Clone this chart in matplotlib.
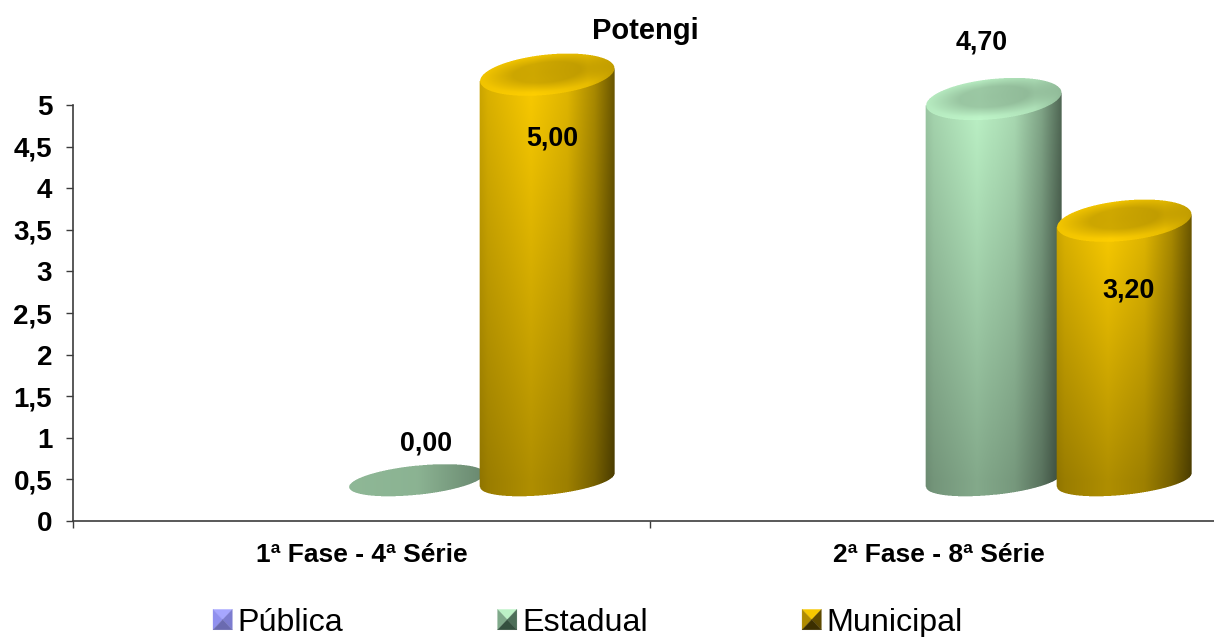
import numpy as np
import matplotlib
matplotlib.use("Agg")
import matplotlib.pyplot as plt
from matplotlib.patches import Polygon, Patch
from matplotlib.legend_handler import HandlerBase
from matplotlib.ticker import FixedLocator, FixedFormatter

categories = ["1ª Fase - 4ª Série", "2ª Fase - 8ª Série"]
series_names = ["Pública", "Estadual", "Municipal"]
publica = [None, None]
estadual = [0.0, 4.70]
municipal = [5.0, 3.20]
title = "Potengi"
yticks = [0, 0.5, 1, 1.5, 2, 2.5, 3, 3.5, 4, 4.5, 5]
ylabels = ["0", "0,5", "1", "1,5", "2", "2,5", "3", "3,5", "4", "4,5", "5"]

W, H = 1214, 637
FONT = "Liberation Sans"
plt.rcParams["font.family"] = [FONT, "DejaVu Sans"]
fig = plt.figure(figsize=(W / 100, H / 100), dpi=100, facecolor="white")
ax = fig.add_axes([73 / W, (H - 521) / H, (W - 73) / W, 416 / H])
ax.set_xlim(-0.5, -0.5 + (W - 73) / 577)
ax.set_ylim(0, 5)
ax.patch.set_visible(False)

# pseudo-3D projection of the original chart
BASE = 0.49
SCALE = 0.975
WIDTH = 0.234
OFFS = {"Estadual": 0.095, "Municipal": 0.322}
PEAK = {"Estadual": np.array([188, 242, 198.]), "Municipal": np.array([250, 203, 0.])}
TH = np.deg2rad(6)
B_BOT, B_TOP = 14.5, 20.0


def ell(X, Y, cx, cy, a, b):
    dx, dy = X - cx, Y - cy
    u = dx * np.cos(TH) + dy * np.sin(TH)
    v = -dx * np.sin(TH) + dy * np.cos(TH)
    return u / a, v / b


def side_shade(t):
    return np.interp(t, [0, .06, .38, .65, .85, 1], [.82, .88, 1.0, .90, .68, .42])


def render(rect, peak, value):
    x0 = rect.get_x()
    (l, yb), (r, yt) = ax.transData.transform(
        [(x0, rect.get_y()), (x0 + rect.get_width(), rect.get_y() + rect.get_height())])
    cx = (l + r) / 2
    a = (r - l) / 2
    px0, px1 = int(l) - 2, int(r) + 3
    py0, py1 = int(yb - 24), int(yt + 30)
    ss = 3
    xs = (np.arange((px1 - px0) * ss) + .5) / ss + px0
    ys = (np.arange((py1 - py0) * ss) + .5) / ss + py0
    X, Y = np.meshgrid(xs, ys)
    ub, vb = ell(X, Y, cx, yb, a, B_BOT)
    flat = value == 0
    bot = ub**2 + vb**2 <= 1
    if flat:
        mask = bot
        top = np.zeros_like(bot)
    else:
        ut, vt = ell(X, Y, cx, yt, a, B_TOP)
        top = ut**2 + vt**2 <= 1
        slope = 0.095
        band = (X >= l) & (X <= r) & (Y >= yb + (X - cx) * slope) & (Y <= yt + (X - cx) * slope)
        mask = bot | top | band
    t = np.clip((X - l) / (r - l), 0, 1)
    if flat:
        fac = np.interp(t, [0, .5, 1], [.76, .74, .56])
    else:
        vert = np.interp(Y, [yb, yt], [.70, 1.0])
        fac = side_shade(t) * vert
        # bevelled cap: darker centre, bright front lip
        rr = np.sqrt(ut**2 + (vt - 0.12)**2)
        cap = np.interp(rr, [0, .5, .95, 1.2], [.82, .83, 1.0, 1.03])
        capfac = np.interp(t, [0, .4, .8, 1], [.96, 1.0, .92, .76]) * cap
        fac = np.where(top, capfac, fac)
    rgb = np.clip(fac[..., None] * peak / 255, 0, 1)
    h, w = rgb.shape[:2]
    rgba = np.zeros((h // ss, w // ss, 4))
    for c in range(3):
        rgba[..., c] = (rgb[..., c] * mask).reshape(h // ss, ss, w // ss, ss).sum((1, 3))
    cov = mask.reshape(h // ss, ss, w // ss, ss).sum((1, 3))
    rgba[..., :3] /= np.maximum(cov, 1)[..., None]
    rgba[..., 3] = cov / ss**2
    inv = ax.transData.inverted()
    (e0, f0), (e1, f1) = inv.transform([(px0, py0), (px1, py1)])
    ax.imshow(rgba, origin="lower", extent=(e0, e1, f0, f1), aspect="auto",
              interpolation="nearest", clip_on=False, zorder=3)


xpos = np.arange(len(categories))
for name, vals in [("Estadual", estadual), ("Municipal", municipal)]:
    heights = [v * SCALE for v in vals]
    bars = ax.bar(xpos + OFFS[name], heights, WIDTH, bottom=BASE, color="none",
                  edgecolor="none", label=name)
    for rect, v in zip(bars, vals):
        render(rect, PEAK[name], v)
ax.set_xlim(-0.5, -0.5 + (W - 73) / 577)
ax.set_ylim(0, 5)

# data labels, offsets in pixels from the top of each cylinder
label_off = {("Estadual", 0): (10, 37), ("Estadual", 1): (-12, 56),
             ("Municipal", 0): (5, -63.5), ("Municipal", 1): (4, -70)}
for name, vals in [("Estadual", estadual), ("Municipal", municipal)]:
    for i, v in enumerate(vals):
        dx, dy = label_off[(name, i)]
        ax.annotate(f"{v:.2f}".replace(".", ","),
                    xy=(xpos[i] + OFFS[name], BASE + v * SCALE),
                    xytext=(dx * .72, dy * .72),
                    textcoords="offset points", ha="center", va="center",
                    fontsize=19.4, fontweight="bold", color="black", zorder=5,
                    annotation_clip=False)

# axes
for s in ("top", "right"):
    ax.spines[s].set_visible(False)
for s in ("left", "bottom"):
    ax.spines[s].set_color("#3c3c3c")
    ax.spines[s].set_linewidth(1.2)
ax.set_yticks(yticks)
ax.set_yticklabels(ylabels, fontsize=20, fontweight="bold")
ax.tick_params(axis="y", length=5, width=1.0, color="#3c3c3c", pad=10)
ax.xaxis.set_major_locator(FixedLocator([-0.5, 0.5]))
ax.xaxis.set_major_formatter(FixedFormatter(["", ""]))
ax.xaxis.set_minor_locator(FixedLocator(list(xpos)))
ax.xaxis.set_minor_formatter(FixedFormatter(categories))
ax.tick_params(axis="x", which="major", length=5, width=1.0, color="#3c3c3c")
ax.tick_params(axis="x", which="minor", length=0, pad=15.5, labelsize=19)
for t in ax.get_xticklabels(minor=True):
    t.set_fontweight("bold")

fig.text(645 / W, 1 - 31 / H, title, ha="center", va="center", fontsize=21, fontweight="bold")


# legend with bevelled swatches
class Bevel(HandlerBase):
    def __init__(self, cols):
        super().__init__()
        self.cols = cols

    def create_artists(self, legend, orig, xd, yd, width, height, fontsize, trans):
        x0, y0, x1, y1 = -xd, -yd, -xd + width, -yd + height
        xc, yc = (x0 + x1) / 2, (y0 + y1) / 2
        tris = [[(x0, y1), (x1, y1), (xc, yc)], [(x0, y0), (x0, y1), (xc, yc)],
                [(x1, y0), (x1, y1), (xc, yc)], [(x0, y0), (x1, y0), (xc, yc)]]
        return [Polygon(p, closed=True, facecolor=c, edgecolor=c, lw=0.2, transform=trans)
                for p, c in zip(tris, self.cols)]


swatch = {"Pública": ["#a6a6ff", "#9090ee", "#7c7cd0", "#6a6ab0"],
          "Estadual": ["#bcf2c6", "#7fa98a", "#4c6e58", "#34503f"],
          "Municipal": ["#f6c800", "#b08c00", "#5e4a00", "#3c2f00"]}
handles = [Patch(label=n) for n in series_names]
leg = fig.legend(handles=handles, labels=series_names, ncol=3, frameon=False,
                 loc="center left", bbox_to_anchor=(213 / W, 1 - 623 / H), bbox_transform=fig.transFigure,
                 fontsize=23.2, borderpad=0, borderaxespad=0,
                 handlelength=0.6, handleheight=0.6, handletextpad=0.17, columnspacing=4.78,
                 handler_map={h: Bevel(swatch[h.get_label()]) for h in handles})

fig.savefig("out.png", dpi=100, facecolor="white")
